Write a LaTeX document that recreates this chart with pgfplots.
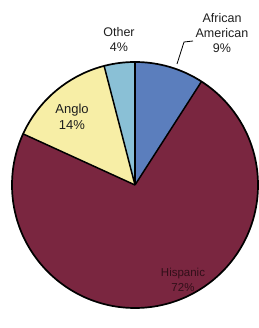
\documentclass[border=0pt]{standalone}
\usepackage{pgfplots}
\usepackage{pgfplotstable}
\pgfplotsset{compat=1.18}
\usepackage{fontspec}
\setmainfont{Liberation Sans}
\definecolor{cAA}{HTML}{5B7EBD}
\definecolor{cHi}{HTML}{7A2640}
\definecolor{cAn}{HTML}{F7EEA6}
\definecolor{cOt}{HTML}{8AC0D6}
\definecolor{txt}{HTML}{1E1E1E}
\pgfplotstableread{
group value
AfricanAmerican 9
Hispanic 72
Anglo 14
Other 4
}\pietable
\pgfplotstablegetelem{0}{value}\of\pietable \let\vA\pgfplotsretval
\pgfplotstablegetelem{1}{value}\of\pietable \let\vB\pgfplotsretval
\pgfplotstablegetelem{2}{value}\of\pietable \let\vC\pgfplotsretval
\pgfplotstablegetelem{3}{value}\of\pietable \let\vD\pgfplotsretval
\pgfmathsetmacro\tot{\vA+\vB+\vC+\vD}
\pgfmathsetmacro\k{360/\tot}
\pgfmathsetmacro\aA{90}
\pgfmathsetmacro\aB{\aA-\k*\vA}
\pgfmathsetmacro\aC{\aB-\k*\vB}
\pgfmathsetmacro\aD{\aC-\k*\vC}
\pgfmathsetmacro\aE{\aD-\k*\vD}
\def\R{123pt}
\begin{document}
\begin{tikzpicture}
\begin{axis}[name=ax, hide axis, scale only axis, width=258pt, height=328pt,
  xmin=0, xmax=258, ymin=0, ymax=328, clip=false]
\fill[cAA] (axis cs:135,143) -- ++(\aA:\R) arc[start angle=\aA, end angle=\aB, radius=\R] -- cycle;
\fill[cHi] (axis cs:135,143) -- ++(\aB:\R) arc[start angle=\aB, end angle=\aC, radius=\R] -- cycle;
\fill[cAn] (axis cs:135,143) -- ++(\aC:\R) arc[start angle=\aC, end angle=\aD, radius=\R] -- cycle;
\fill[cOt] (axis cs:135,143) -- ++(\aD:\R) arc[start angle=\aD, end angle=\aE, radius=\R] -- cycle;
\draw[black, line width=1.7pt, line join=round] (axis cs:135,143) circle[radius=\R];
\draw[black, line width=1.5pt] (axis cs:135,143) -- ++(\aA:\R);
\draw[black, line width=1.5pt] (axis cs:135,143) -- ++(\aB:\R);
\draw[black, line width=1.5pt] (axis cs:135,143) -- ++(\aC:\R);
\draw[black, line width=1.5pt] (axis cs:135,143) -- ++(\aD:\R);
\draw[black, line width=0.8pt] (axis cs:177,264) -- (axis cs:184,286) -- (axis cs:193,287);
\node[align=center, font=\fontsize{12.5}{15}\selectfont, text=txt] at (axis cs:222,295) {African\\American\\9\%};
\node[align=center, font=\fontsize{12.5}{15}\selectfont, text=txt] at (axis cs:119,288) {Other\\4\%};
\node[align=center, font=\fontsize{13}{16}\selectfont, text=txt] at (axis cs:72,211) {Anglo\\14\%};
\node[align=center, font=\fontsize{11.5}{15}\selectfont, text=black!60!cHi] at (axis cs:183,48) {Hispanic\\72\%};
\end{axis}
\pgfresetboundingbox
\path (ax.south west) rectangle (ax.north east);
\end{tikzpicture}
\end{document}
